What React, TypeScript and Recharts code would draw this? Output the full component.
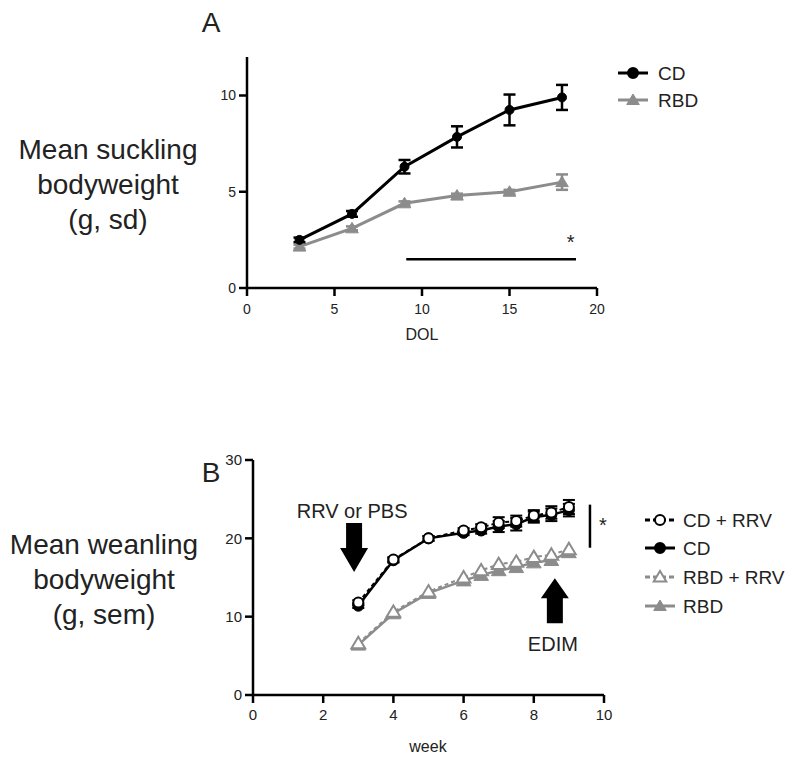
import React from 'react';
import { LineChart, Line, XAxis, YAxis, ErrorBar, ReferenceLine, ReferenceDot } from 'recharts';

// ---------- Panel A: suckling ----------
const dolDays = [3, 6, 9, 12, 15, 18];
const suckCD = [2.5, 3.85, 6.3, 7.85, 9.25, 9.9];
const suckCDsd = [0.12, 0.15, 0.35, 0.55, 0.8, 0.65];
const suckRBD = [2.15, 3.1, 4.4, 4.8, 5.0, 5.5];
const suckRBDsd = [0.1, 0.1, 0.1, 0.1, 0.1, 0.4];
const dolTicks = [0, 5, 10, 15, 20];
const suckYTicks = [0, 5, 10];
const sigA = { x1: 9.1, x2: 18.8, y: 1.5, starX: 18.5, starY: 2.4 };

// ---------- Panel B: weanling ----------
const weeks = [3, 4, 5, 6, 6.5, 7, 7.5, 8, 8.5, 9];
const weanCDRRV = [11.8, 17.3, 20.0, 21.0, 21.4, 22.0, 22.2, 22.9, 23.3, 24.0];
const weanCDRRVsem = [0.3, 0.3, 0.3, 0.3, 0.4, 0.7, 0.7, 0.7, 0.8, 0.9];
const weanCD = [11.4, 17.2, 20.0, 20.7, 21.0, 21.5, 21.8, 22.7, 23.0, 23.6];
const weanCDsem = [0.3, 0.3, 0.3, 0.3, 0.4, 0.7, 0.8, 0.7, 0.8, 0.8];
const weanRBDRRV = [6.6, 10.6, 13.2, 15.0, 15.9, 16.7, 17.0, 17.6, 17.9, 18.6];
const weanRBD = [6.4, 10.4, 13.0, 14.6, 15.3, 15.9, 16.3, 16.9, 17.2, 18.2];
const weekTicks = [0, 2, 4, 6, 8, 10];
const weanYTicks = [0, 10, 20, 30];
const sigB = { x: 9.6, y1: 18.8, y2: 24.3, starX: 9.97, starY: 21.7 };
const arrowDown = { x: 2.88, y: 15.7, text: 'RRV or PBS' };
const arrowUp = { x: 8.6, y: 14.9, text: 'EDIM' };

const FONT = '"Liberation Sans", Arial, Helvetica, sans-serif';
const GRAY = '#8c8c8c';
const TXT = '#222';

const dataA = dolDays.map((d, i) => ({
  x: d,
  cd: suckCD[i],
  cdErr: suckCDsd[i],
  rbd: suckRBD[i],
  rbdErr: suckRBDsd[i],
}));

const dataB = weeks.map((w, i) => ({
  x: w,
  cdrrv: weanCDRRV[i],
  cdrrvErr: weanCDRRVsem[i],
  cd: weanCD[i],
  cdErr: weanCDsem[i],
  rbdrrv: weanRBDRRV[i],
  rbd: weanRBD[i],
}));

const triPts = (cx: number, cy: number, s: number) =>
  `${cx},${cy - s} ${cx + s * 1.05},${cy + s * 0.75} ${cx - s * 1.05},${cy + s * 0.75}`;

const makeTri = (fill: string, stroke: string, s: number, sw: number) => (props: any) => {
  const { cx, cy, index } = props;
  if (cx == null || cy == null) return <g key={`t${index}`} />;
  return <polygon key={`t${index}`} points={triPts(cx, cy, s)} fill={fill} stroke={stroke} strokeWidth={sw} />;
};

const makeCircle = (fill: string, stroke: string, r: number, sw: number) => (props: any) => {
  const { cx, cy, index } = props;
  if (cx == null || cy == null) return <g key={`c${index}`} />;
  return <circle key={`c${index}`} cx={cx} cy={cy} r={r} fill={fill} stroke={stroke} strokeWidth={sw} />;
};

const axisLine = { stroke: '#000', strokeWidth: 2.5 };
const tickLine = { stroke: '#000', strokeWidth: 2.5 };
const tickStyle = { fontSize: 14, fill: TXT, fontFamily: FONT };
const tickStyleB = { fontSize: 15, fill: TXT, fontFamily: FONT };

const starShape = (props: any) => (
  <text x={props.cx} y={props.cy} textAnchor="middle" dominantBaseline="central" fontSize={20} fontFamily={FONT} fill={TXT}>
    *
  </text>
);

const downArrowShape = (props: any) => {
  const { cx, cy } = props;
  const pts = [
    [-8, -49], [8, -49], [8, -24], [14, -24], [0, 0], [-14, -24], [-8, -24],
  ].map(([dx, dy]) => `${cx + dx},${cy + dy}`).join(' ');
  return (
    <g>
      <polygon points={pts} fill="#000" />
      <text x={cx - 2} y={cy - 54} textAnchor="middle" fontSize={20} fontFamily={FONT} fill={TXT}>
        {arrowDown.text}
      </text>
    </g>
  );
};

const upArrowShape = (props: any) => {
  const { cx, cy } = props;
  const pts = [
    [-8, 45], [8, 45], [8, 20], [14, 20], [0, 0], [-14, 20], [-8, 20],
  ].map(([dx, dy]) => `${cx + dx},${cy + dy}`).join(' ');
  return (
    <g>
      <polygon points={pts} fill="#000" />
      <text x={cx - 2} y={cy + 73} textAnchor="middle" fontSize={20} fontFamily={FONT} fill={TXT}>
        {arrowUp.text}
      </text>
    </g>
  );
};

function PanelA() {
  return (
    <LineChart width={800} height={340} data={dataA} margin={{ top: 57, right: 203, bottom: 22, left: 217 }}>
      <XAxis
        dataKey="x"
        type="number"
        domain={[0, 20]}
        ticks={dolTicks}
        axisLine={axisLine}
        tickLine={tickLine}
        tickSize={8}
        tickMargin={8}
        tick={tickStyle}
        height={30}
        allowDataOverflow
      />
      <YAxis
        type="number"
        domain={[0, 12]}
        ticks={suckYTicks}
        axisLine={axisLine}
        tickLine={tickLine}
        tickSize={8}
        tickMargin={3}
        tick={tickStyle}
        width={30}
      />
      <ReferenceLine
        segment={[{ x: sigA.x1, y: sigA.y }, { x: sigA.x2, y: sigA.y }]}
        stroke="#000"
        strokeWidth={2.5}
        ifOverflow="visible"
      />
      <ReferenceDot x={sigA.starX} y={sigA.starY} r={0} shape={starShape} ifOverflow="visible" />
      <Line
        dataKey="rbd"
        stroke={GRAY}
        strokeWidth={3}
        dot={makeTri(GRAY, GRAY, 6, 1)}
        isAnimationActive={false}
      >
        <ErrorBar dataKey="rbdErr" direction="y" width={6} stroke={GRAY} strokeWidth={2.5} />
      </Line>
      <Line
        dataKey="cd"
        stroke="#000"
        strokeWidth={3}
        dot={makeCircle('#000', '#000', 4.5, 1)}
        isAnimationActive={false}
      >
        <ErrorBar dataKey="cdErr" direction="y" width={6} stroke="#000" strokeWidth={2.5} />
      </Line>
    </LineChart>
  );
}

function PanelB() {
  return (
    <LineChart width={800} height={343} data={dataB} margin={{ top: 40, right: 196, bottom: 38, left: 223 }}>
      <XAxis
        dataKey="x"
        type="number"
        domain={[0, 10]}
        ticks={weekTicks}
        axisLine={axisLine}
        tickLine={tickLine}
        tickSize={8}
        tickMargin={6}
        tick={tickStyleB}
        height={30}
      />
      <YAxis
        type="number"
        domain={[0, 30]}
        ticks={weanYTicks}
        axisLine={axisLine}
        tickLine={tickLine}
        tickSize={8}
        tickMargin={3}
        tick={tickStyleB}
        width={30}
      />
      <ReferenceLine
        segment={[{ x: sigB.x, y: sigB.y1 }, { x: sigB.x, y: sigB.y2 }]}
        stroke="#000"
        strokeWidth={2.5}
        ifOverflow="visible"
      />
      <ReferenceDot x={sigB.starX} y={sigB.starY} r={0} shape={starShape} ifOverflow="visible" />
      <ReferenceDot x={arrowDown.x} y={arrowDown.y} r={0} shape={downArrowShape} ifOverflow="visible" />
      <ReferenceDot x={arrowUp.x} y={arrowUp.y} r={0} shape={upArrowShape} ifOverflow="visible" />
      <Line
        dataKey="rbd"
        stroke={GRAY}
        strokeWidth={2.5}
        dot={makeTri(GRAY, GRAY, 7, 1)}
        isAnimationActive={false}
      />
      <Line
        dataKey="rbdrrv"
        stroke={GRAY}
        strokeWidth={2}
        strokeDasharray="4 3"
        dot={makeTri('#fff', GRAY, 6.5, 2)}
        isAnimationActive={false}
      />
      <Line
        dataKey="cd"
        stroke="#000"
        strokeWidth={2.5}
        dot={makeCircle('#000', '#000', 5.5, 1)}
        isAnimationActive={false}
      >
        <ErrorBar dataKey="cdErr" direction="y" width={6} stroke="#000" strokeWidth={2} />
      </Line>
      <Line
        dataKey="cdrrv"
        stroke="#000"
        strokeWidth={2}
        strokeDasharray="4 3"
        dot={makeCircle('#fff', '#000', 5, 2)}
        isAnimationActive={false}
      >
        <ErrorBar dataKey="cdrrvErr" direction="y" width={6} stroke="#000" strokeWidth={2} />
      </Line>
    </LineChart>
  );
}

function Overlay() {
  const legendA = [
    { label: 'CD', y: 73, color: '#000', dash: undefined as string | undefined, marker: 'circle', open: false },
    { label: 'RBD', y: 100, color: GRAY, dash: undefined as string | undefined, marker: 'tri', open: false },
  ];
  const legendB = [
    { label: 'CD + RRV', y: 520, color: '#000', dash: '5 3', marker: 'circle', open: true },
    { label: 'CD', y: 548, color: '#000', dash: undefined as string | undefined, marker: 'circle', open: false },
    { label: 'RBD + RRV', y: 577, color: GRAY, dash: '5 3', marker: 'tri', open: true },
    { label: 'RBD', y: 606, color: GRAY, dash: undefined as string | undefined, marker: 'tri', open: false },
  ];
  const renderLegend = (items: any[], x1: number, x2: number, tx: number) =>
    items.map((it) => {
      const mx = (x1 + x2) / 2;
      return (
        <g key={it.label + it.y}>
          <line x1={x1} x2={x2} y1={it.y} y2={it.y} stroke={it.color} strokeWidth={3} strokeDasharray={it.dash} />
          {it.marker === 'circle' ? (
            <circle cx={mx} cy={it.y} r={it.open ? 5 : 5} fill={it.open ? '#fff' : it.color} stroke={it.color} strokeWidth={2} />
          ) : (
            <polygon points={triPts(mx, it.y, 6)} fill={it.open ? '#fff' : it.color} stroke={it.color} strokeWidth={it.open ? 2 : 1} />
          )}
          <text x={tx} y={it.y} dominantBaseline="central" fontSize={19} fontFamily={FONT} fill={TXT}>
            {it.label}
          </text>
        </g>
      );
    });
  return (
    <svg width={800} height={763} style={{ position: 'absolute', left: 0, top: 0, pointerEvents: 'none' }}>
      <text x={211} y={32} textAnchor="middle" fontSize={28} fontFamily={FONT} fill={TXT}>A</text>
      <text x={211} y={482} textAnchor="middle" fontSize={28} fontFamily={FONT} fill={TXT}>B</text>
      <g fontSize={28} fontFamily={FONT} fill={TXT} textAnchor="middle">
        <text x={108} y={159}>Mean suckling</text>
        <text x={108} y={194}>bodyweight</text>
        <text x={108} y={229}>(g, sd)</text>
        <text x={104} y={589 - 35}>Mean weanling</text>
        <text x={104} y={589}>bodyweight</text>
        <text x={104} y={624}>(g, sem)</text>
      </g>
      <text x={422} y={340} textAnchor="middle" fontSize={16} fontFamily={FONT} fill={TXT}>DOL</text>
      <text x={428} y={752} textAnchor="middle" fontSize={16} fontFamily={FONT} fill={TXT}>week</text>
      {renderLegend(legendA, 618, 648, 658)}
      {renderLegend(legendB, 645, 675, 683)}
    </svg>
  );
}

export default function App() {
  return (
    <div style={{ position: 'absolute', left: 0, top: 0, width: 800, height: 763, background: '#fff', overflow: 'hidden' }}>
      <div style={{ position: 'absolute', left: 0, top: 0 }}>
        <PanelA />
      </div>
      <div style={{ position: 'absolute', left: 0, top: 420 }}>
        <PanelB />
      </div>
      <Overlay />
    </div>
  );
}
